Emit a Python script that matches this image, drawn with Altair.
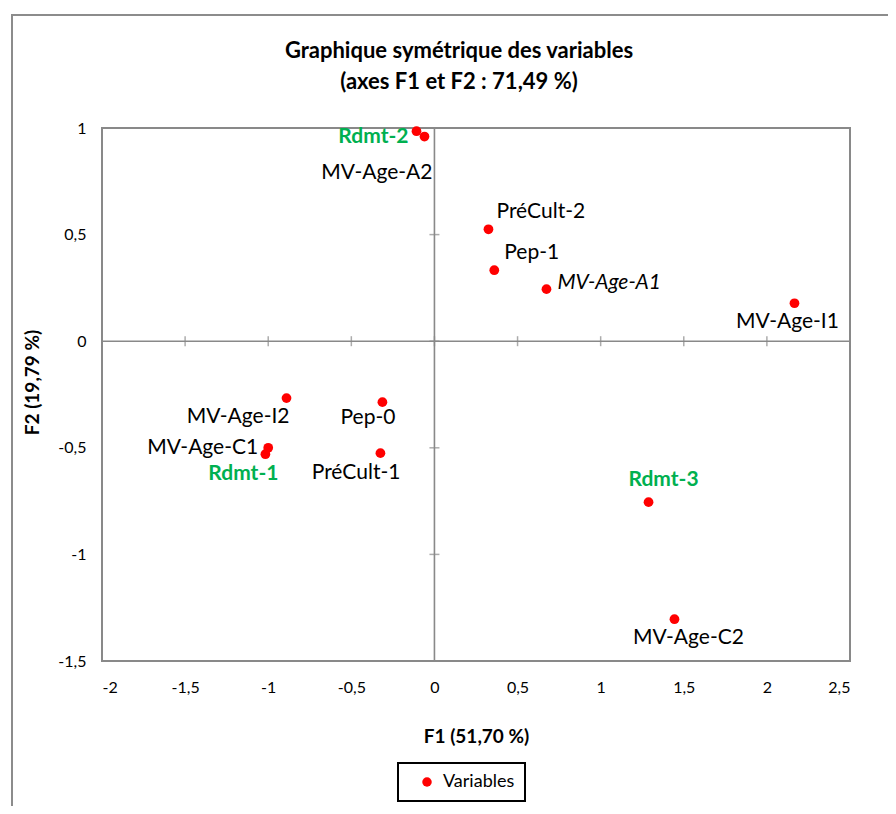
import altair as alt
import pandas as pd

# ---- data ----
labels = ["Rdmt-2", "MV-Age-A2", "PréCult-2", "Pep-1", "MV-Age-A1", "MV-Age-I1",
          "MV-Age-I2", "Pep-0", "MV-Age-C1", "Rdmt-1", "PréCult-1", "Rdmt-3", "MV-Age-C2"]
f1 = [-0.108, -0.060, 0.325, 0.360, 0.674, 2.166, -0.890, -0.313, -1.000, -1.017, -0.325, 1.288, 1.444]
f2 = [0.985, 0.960, 0.525, 0.333, 0.244, 0.178, -0.267, -0.286, -0.500, -0.530, -0.525, -0.755, -1.304]
x_ticks = [-2, -1.5, -1, -0.5, 0, 0.5, 1, 1.5, 2, 2.5]
y_ticks = [-1.5, -1, -0.5, 0, 0.5, 1]
series_name = "Variables"

# ---- label placement / styling (presentation only) ----
label_style = {
    "Rdmt-2":    dict(align="right",  dx=-8,  dy=6,  color="#00B050", fontWeight="bold"),
    "MV-Age-A2": dict(align="right",  dx=8,   dy=36),
    "PréCult-2": dict(align="left",   dx=8,   dy=-17),
    "Pep-1":     dict(align="left",   dx=10,  dy=-17),
    "MV-Age-A1": dict(align="left",   dx=11,  dy=-6, fontStyle="italic"),
    "MV-Age-I1": dict(align="center", dx=-7,  dy=19),
    "MV-Age-I2": dict(align="right",  dx=3,   dy=19),
    "Pep-0":     dict(align="right",  dx=13,  dy=16),
    "MV-Age-C1": dict(align="right",  dx=-10, dy=0),
    "Rdmt-1":    dict(align="right",  dx=13,  dy=20, color="#00B050", fontWeight="bold"),
    "PréCult-1": dict(align="right",  dx=20,  dy=20),
    "Rdmt-3":    dict(align="center", dx=15,  dy=-22, color="#00B050", fontWeight="bold"),
    "MV-Age-C2": dict(align="center", dx=14,  dy=19),
}

FONT = "Lato"
GRAY = "#898989"

df = pd.DataFrame({"label": labels, "F1": f1, "F2": f2, "series": series_name})
xt = pd.DataFrame({"t": x_ticks, "zero": 0})
yt = pd.DataFrame({"t": y_ticks, "zero": 0})

W, H = 748, 533

xscale = alt.Scale(domain=[-2, 2.5], nice=False, zero=False)
yscale = alt.Scale(domain=[-1.5, 1], nice=False, zero=False)

x_axis = alt.Axis(values=x_ticks, labelExpr="replace(toString(datum.value), '.', ',')",
                  domain=False, ticks=False, grid=False, labelFont=FONT, labelFontSize=16,
                  labelColor="black", labelPadding=18, title="F1 (51,70 %)",
                  titleFont=FONT, titleFontSize=19, titleFontWeight="bold", titleColor="black",
                  titleY=66)
y_axis = alt.Axis(values=y_ticks, labelExpr="replace(toString(datum.value), '.', ',')",
                  domain=False, ticks=False, grid=False, labelFont=FONT, labelFontSize=16,
                  labelColor="black", labelPadding=16, title="F2 (19,79 %)",
                  titleFont=FONT, titleFontSize=19, titleFontWeight="bold", titleColor="black",
                  titleX=-60, titleY=254, titleAngle=-90)

frame = alt.Chart(pd.DataFrame({"a": [0]})).mark_rect(
    fill="white", fillOpacity=0, stroke="#8c8c8c", strokeWidth=2
).encode(x=alt.value(-90), x2=alt.value(1000), y=alt.value(-113), y2=alt.value(900))

zero_v = alt.Chart(pd.DataFrame({"z": [0]})).mark_rule(color=GRAY, strokeWidth=1.6).encode(
    x=alt.X("z:Q", scale=xscale, axis=x_axis))
zero_h = alt.Chart(pd.DataFrame({"z": [0]})).mark_rule(color=GRAY, strokeWidth=1.6).encode(
    y=alt.Y("z:Q", scale=yscale, axis=y_axis))

ticks_on_y = alt.Chart(yt).mark_tick(orient="horizontal", size=10, thickness=1.5, color=GRAY).encode(
    x=alt.X("zero:Q", scale=xscale, axis=x_axis), y=alt.Y("t:Q", scale=yscale, axis=y_axis))
ticks_on_x = alt.Chart(xt).mark_tick(orient="vertical", size=10, thickness=1.5, color=GRAY).encode(
    x=alt.X("t:Q", scale=xscale, axis=x_axis), y=alt.Y("zero:Q", scale=yscale, axis=y_axis))

points = alt.Chart(df).mark_circle(size=95, opacity=1).encode(
    x=alt.X("F1:Q", scale=xscale, axis=x_axis),
    y=alt.Y("F2:Q", scale=yscale, axis=y_axis),
    color=alt.Color("series:N", scale=alt.Scale(range=["#FF0000"]),
                    legend=alt.Legend(title=None, orient="none", legendX=296, legendY=635,
                                      strokeColor="black", padding=10, symbolType="circle",
                                      symbolSize=90, symbolOffset=10, labelOffset=7,
                                      labelFont=FONT, labelFontSize=18,
                                      labelColor="black", symbolStrokeWidth=0)),
)

texts = []
for name in labels:
    st = dict(label_style[name])
    color = st.pop("color", "black")
    texts.append(
        alt.Chart(df).transform_filter(alt.datum.label == name).mark_text(
            baseline="middle", font=FONT, fontSize=21, color=color, **st
        ).encode(
            x=alt.X("F1:Q", scale=xscale, axis=x_axis),
            y=alt.Y("F2:Q", scale=yscale, axis=y_axis),
            text="label:N",
        )
    )

chart = alt.layer(frame, zero_v, zero_h, ticks_on_y, ticks_on_x, points, *texts).properties(
    width=W, height=H,
    title=alt.TitleParams(["Graphique symétrique des variables", "(axes F1 et F2 : 71,49 %)"],
                          font=FONT, fontSize=22, fontWeight="bold", color="black",
                          anchor="middle", frame="group", dx=-17, offset=0, dy=80,
                          lineHeight=31),
    autosize=alt.AutoSizeParams(type="none"),
    padding={"left": 94, "top": 120, "right": 38, "bottom": 145},
).configure_view(stroke=GRAY, strokeWidth=2).configure_legend(strokeWidth=2)

chart.save("out.html", embed_options={"renderer": "svg", "actions": False})
